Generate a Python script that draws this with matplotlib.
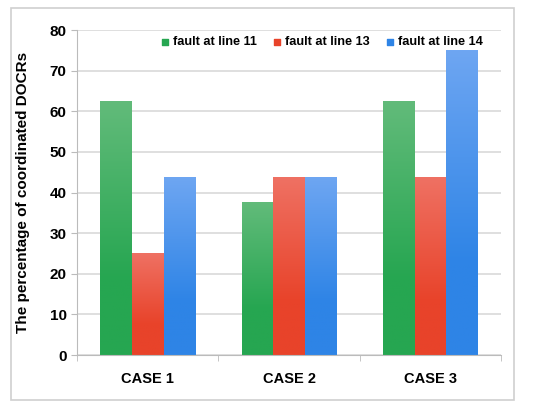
import numpy as np
import matplotlib.pyplot as plt
from matplotlib.colors import LinearSegmentedColormap
from matplotlib.patches import Rectangle

plt.rcParams['font.family'] = ['Liberation Sans', 'DejaVu Sans']

# --- Data ---
cases = ["CASE 1", "CASE 2", "CASE 3"]
series = ["fault at line 11", "fault at line 13", "fault at line 14"]
line11 = [62.5, 37.5, 62.5]
line13 = [25, 43.75, 43.75]
line14 = [43.75, 43.75, 75]

# (top colour, bottom colour) for each series
shades = [("#62BB7A", "#26A651"), ("#EF7163", "#E8432A"), ("#6EA6F2", "#2E84E6")]

fig = plt.figure(figsize=(5.5, 4.11), dpi=100)
fig.patches.append(Rectangle((11 / 550, 1 - 400 / 411), 503 / 550, 392 / 411,
                             transform=fig.transFigure, fill=False,
                             edgecolor="#CFCFCF", linewidth=1.2))
ax = fig.add_axes([0.140, 0.136, 0.771, 0.791])

x = np.arange(len(cases))
w = 0.224
values = [line11, line13, line14]
grad = np.linspace(1, 0, 256).reshape(-1, 1)

for i, (vals, (top, bot), name) in enumerate(zip(values, shades, series)):
    cmap = LinearSegmentedColormap.from_list(name, [(0, bot), (0.3, bot), (1, top)])
    pos = x + (i - 1) * w
    for xp, v in zip(pos, vals):
        ax.imshow(grad, cmap=cmap, aspect="auto", zorder=2,
                  extent=[xp - w / 2, xp + w / 2, 0, v], vmin=0, vmax=1)
    # invisible bars keep the bar geometry on the axes
    ax.bar(pos, vals, w, color=bot, alpha=0, zorder=1)
    ax.scatter([], [], marker="s", s=18, color=bot, label=name)

ax.set_xlim(-0.5, 2.5)
ax.set_ylim(0, 80)
ax.set_yticks(range(0, 81, 10))
ax.set_xticks(x)
ax.set_xticklabels(cases, fontsize=10.5, fontweight="bold")
ax.set_xticks([-0.5, 0.5, 1.5, 2.5], minor=True)
ax.tick_params(axis="x", which="major", length=0, pad=12)
ax.tick_params(axis="x", which="minor", length=4, color="#BBBBBB")
ax.tick_params(axis="y", length=4, color="#BBBBBB", labelsize=11)
for lab in ax.get_yticklabels():
    lab.set_fontweight("bold")
ax.grid(axis="y", color="#D9D9D9", linewidth=1.2, zorder=0)
ax.set_axisbelow(True)
for s in ["top", "right"]:
    ax.spines[s].set_visible(False)
ax.spines["left"].set_color("#BBBBBB")
ax.spines["bottom"].set_color("#BBBBBB")
ax.set_ylabel("The percentage of coordinated DOCRs", fontsize=11,
              fontweight="bold", labelpad=14)

ax.legend(loc="upper right", bbox_to_anchor=(0.975, 1.005), ncol=3, frameon=False,
          prop={"weight": "bold", "size": 9.2}, handletextpad=-0.4,
          columnspacing=0.6, borderaxespad=0.2)

fig.savefig("out.png", dpi=100)
